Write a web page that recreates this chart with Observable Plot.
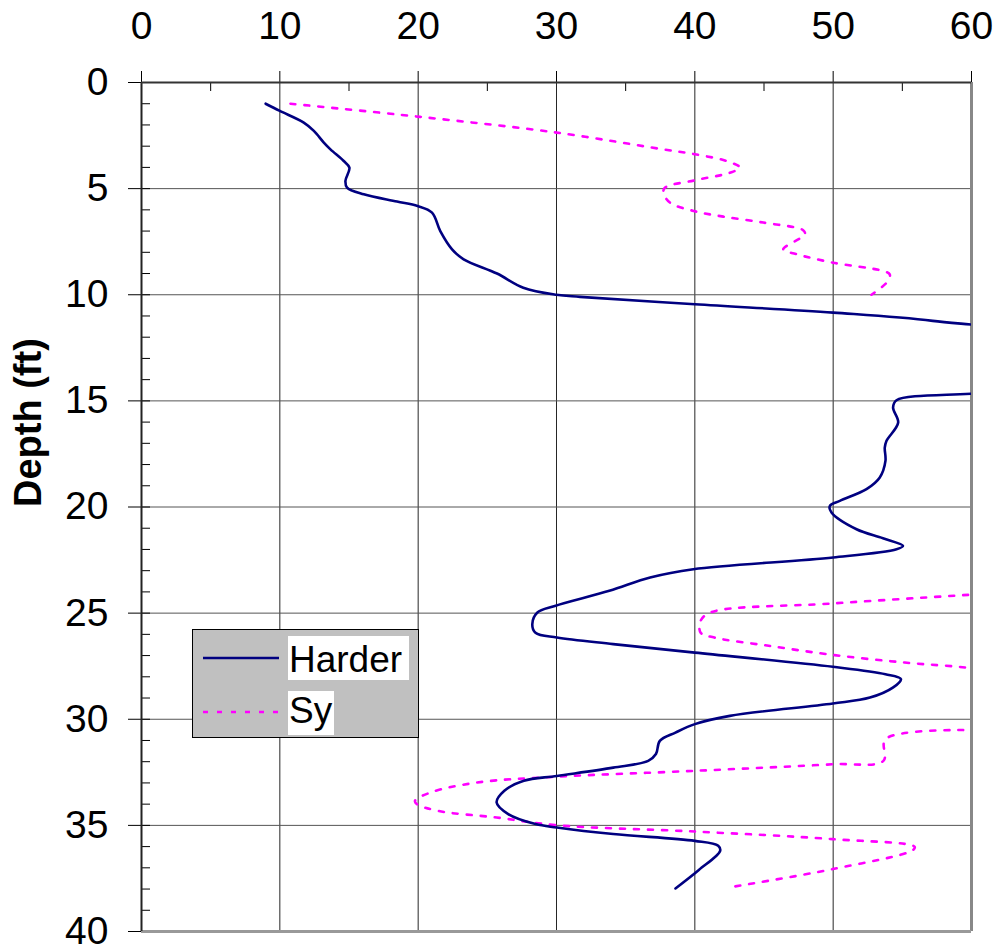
<!DOCTYPE html>
<html>
<head>
<meta charset="utf-8">
<script src="https://cdn.jsdelivr.net/npm/d3@7"></script>
<script src="https://cdn.jsdelivr.net/npm/@observablehq/plot@0.6"></script>
<style>
  html, body { margin: 0; padding: 0; background: #fff; }
  #wrap { position: relative; width: 998px; height: 946px; }
  #legend { position: absolute; left: 192px; top: 629px; }
</style>
</head>
<body>
<div id="wrap"></div>
<script>
// ---- data ----
const xTicks = [0, 10, 20, 30, 40, 50, 60];
const yTicks = [0, 5, 10, 15, 20, 25, 30, 35, 40];
const xMinor = [5, 15, 25, 35, 45, 55];
const yMinor = d3.range(0, 41, 1);
const yLabel = "Depth (ft)";
const seriesNames = ["Harder", "Sy"];

const harderDepth = [1.0, 1.34, 1.89, 2.28, 2.83, 3.15, 3.70, 4.01, 4.64, 4.95, 5.27, 5.61, 5.82, 6.13, 7.0, 7.86, 8.33, 9.0, 9.67, 10.0, 10.1, 10.45, 10.84, 11.23, 12.0, 13.2, 14.4, 14.97, 15.32, 16.02, 16.89, 17.2, 17.83, 18.61, 19.16, 19.71, 19.95, 20.26, 21.05, 21.47, 21.83, 21.99, 22.38, 22.93, 23.32, 23.95, 24.66, 24.97, 25.52, 25.92, 26.15, 26.46, 26.86, 27.53, 27.88, 28.11, 28.5, 28.98, 29.26, 29.84, 30.23, 30.63, 31.02, 31.64, 31.96, 32.28, 32.67, 32.9, 33.37, 33.92, 34.47, 34.94, 35.1, 35.41, 35.73, 35.96, 36.2, 37.1, 37.97];
const harderValue = [8.97, 10.0, 11.73, 12.46, 13.18, 13.66, 14.62, 15.03, 14.74, 14.86, 16.07, 18.47, 19.96, 21.0, 21.6, 22.45, 23.29, 25.7, 27.6, 29.98, 31.7, 40.0, 50.0, 57.2, 64.5, 66.0, 63.0, 54.58, 54.33, 54.7, 53.85, 53.73, 53.78, 53.37, 52.41, 50.48, 49.76, 49.88, 51.69, 53.6, 55.05, 54.58, 50.0, 39.89, 36.77, 33.82, 29.88, 28.62, 28.25, 28.48, 30.03, 34.1, 40.0, 49.98, 53.78, 54.9, 54.34, 52.66, 49.98, 42.53, 40.0, 38.6, 37.47, 37.19, 36.63, 34.1, 30.03, 27.64, 26.23, 25.67, 26.51, 28.48, 30.03, 34.1, 40.0, 41.69, 41.83, 40.29, 38.6];

const syDepth = [1.0, 1.62, 2.36, 3.15, 3.38, 3.70, 4.01, 4.25, 4.61, 4.95, 5.19, 5.66, 6.05, 6.32, 6.6, 6.96, 7.15, 7.86, 8.09, 8.49, 8.88, 9.04, 9.35, 10.0,
  24.14, 24.55, 24.97, 25.36, 25.92, 26.15, 26.54, 26.97, 27.33, 27.59, 28.0,
  30.51, 30.94, 31.96, 32.12, 32.43, 32.71, 32.98, 33.45, 33.84, 34.0, 34.32, 34.63, 34.99, 35.29, 35.65, 36.01, 36.17, 37.06, 37.93];
const syValue = [10.77, 20.15, 30.0, 37.7, 40.0, 42.3, 43.26, 42.54, 40.0, 37.85, 37.73, 38.2, 39.9, 42.06, 44.95, 47.83, 47.96, 46.39, 47.36, 50.0, 53.6, 54.09, 53.97, 52.77,
  59.75, 49.84, 41.13, 40.42, 40.42, 41.41, 45.34, 49.98, 55.18, 59.96, 64.0,
  59.4, 53.78, 53.63, 49.98, 40.0, 29.97, 24.27, 20.9, 19.77, 19.91, 21.46, 25.67, 29.97, 40.0, 49.98, 55.89, 55.75, 49.98, 42.39];
const sySegment = [1,1,1,1,1,1,1,1,1,1,1,1,1,1,1,1,1,1,1,1,1,1,1,1,
  2,2,2,2,2,2,2,2,2,2,2,
  3,3,3,3,3,3,3,3,3,3,3,3,3,3,3,3,3,3,3];

// ---- build tables ----
const harder = harderDepth.map((d, i) => ({depth: d, value: harderValue[i]}));
const sy = syDepth.map((d, i) => ({depth: d, value: syValue[i], seg: sySegment[i]}));

const W = 998, H = 946, mL = 141, mR = 27, mT = 82, mB = 15;
const plotW = W - mL - mR, plotH = H - mT - mB;
const FONT = "'Liberation Sans', Arial, Helvetica, sans-serif";
const navy = "#000080", magenta = "#FF00FF";

const chart = Plot.plot({
  width: W, height: H,
  marginLeft: mL, marginRight: mR, marginTop: mT, marginBottom: mB,
  style: {fontFamily: FONT, background: "white", color: "black", overflow: "visible"},
  x: {domain: [0, 60]},
  y: {domain: [0, 40], reverse: true},
  marks: [
    // grid
    Plot.ruleX(xTicks.filter(v => v > 0 && v < 60), {stroke: "#000", strokeWidth: 1, strokeOpacity: 0.85}),
    Plot.ruleY(yTicks.filter(v => v > 0 && v < 40), {stroke: "#555", strokeWidth: 1}),
    // minor ticks (inward)
    Plot.ruleY(yMinor, {insetRight: plotW - 9, stroke: "#000", strokeWidth: 1}),
    Plot.ruleX(xMinor, {insetBottom: plotH - 9, stroke: "#000", strokeWidth: 1}),
    // axes
    Plot.axisX(xTicks, {anchor: "top", tickSize: 12, tickPadding: 32, fontSize: 39, label: null}),
    Plot.axisY(yTicks, {anchor: "left", tickSize: 13, tickPadding: 20, fontSize: 39, label: null}),
    // frame
    Plot.ruleX([60], {stroke: "#888", strokeWidth: 3}),
    Plot.ruleY([40], {stroke: "#999", strokeWidth: 3}),
    Plot.ruleX([0], {stroke: "#222", strokeWidth: 2}),
    Plot.ruleY([0], {stroke: "#333", strokeWidth: 2}),
    // data
    Plot.line(sy, {x: "value", y: "depth", z: "seg", stroke: magenta, strokeWidth: 2.6, strokeDasharray: "5,9", curve: "catmull-rom", clip: true}),
    Plot.line(harder, {x: "value", y: "depth", stroke: navy, strokeWidth: 2.6, curve: "catmull-rom", clip: true}),
    // y title
    Plot.text([yLabel], {frameAnchor: "left", rotate: -90, dx: -113, fontWeight: "bold", fontSize: 38, fill: "black", text: d => d})
  ]
});

const wrap = document.getElementById("wrap");
wrap.appendChild(chart);

// ---- legend overlay ----
const lg = d3.select(wrap).append("svg")
  .attr("id", "legend")
  .attr("width", 228).attr("height", 110)
  .style("font-family", FONT);
lg.append("rect").attr("x", 0.5).attr("y", 0.5).attr("width", 226).attr("height", 108)
  .attr("fill", "#C0C0C0").attr("stroke", "#000").attr("stroke-width", 1);
const items = [
  {name: seriesNames[0], color: navy, dash: null, ly: 29, bx: 96, by: 7, bw: 121, bh: 44, ty: 43},
  {name: seriesNames[1], color: magenta, dash: "5,9", ly: 83, bx: 96, by: 62, bw: 46, bh: 44, ty: 94}
];
items.forEach(it => {
  lg.append("line").attr("x1", 11).attr("x2", 87).attr("y1", it.ly).attr("y2", it.ly)
    .attr("stroke", it.color).attr("stroke-width", 2.6)
    .attr("stroke-dasharray", it.dash);
  lg.append("rect").attr("x", it.bx).attr("y", it.by).attr("width", it.bw).attr("height", it.bh).attr("fill", "white");
  lg.append("text").attr("x", it.bx + 1).attr("y", it.ty).attr("font-size", 37).attr("fill", "black").text(it.name);
});
</script>
</body>
</html>
